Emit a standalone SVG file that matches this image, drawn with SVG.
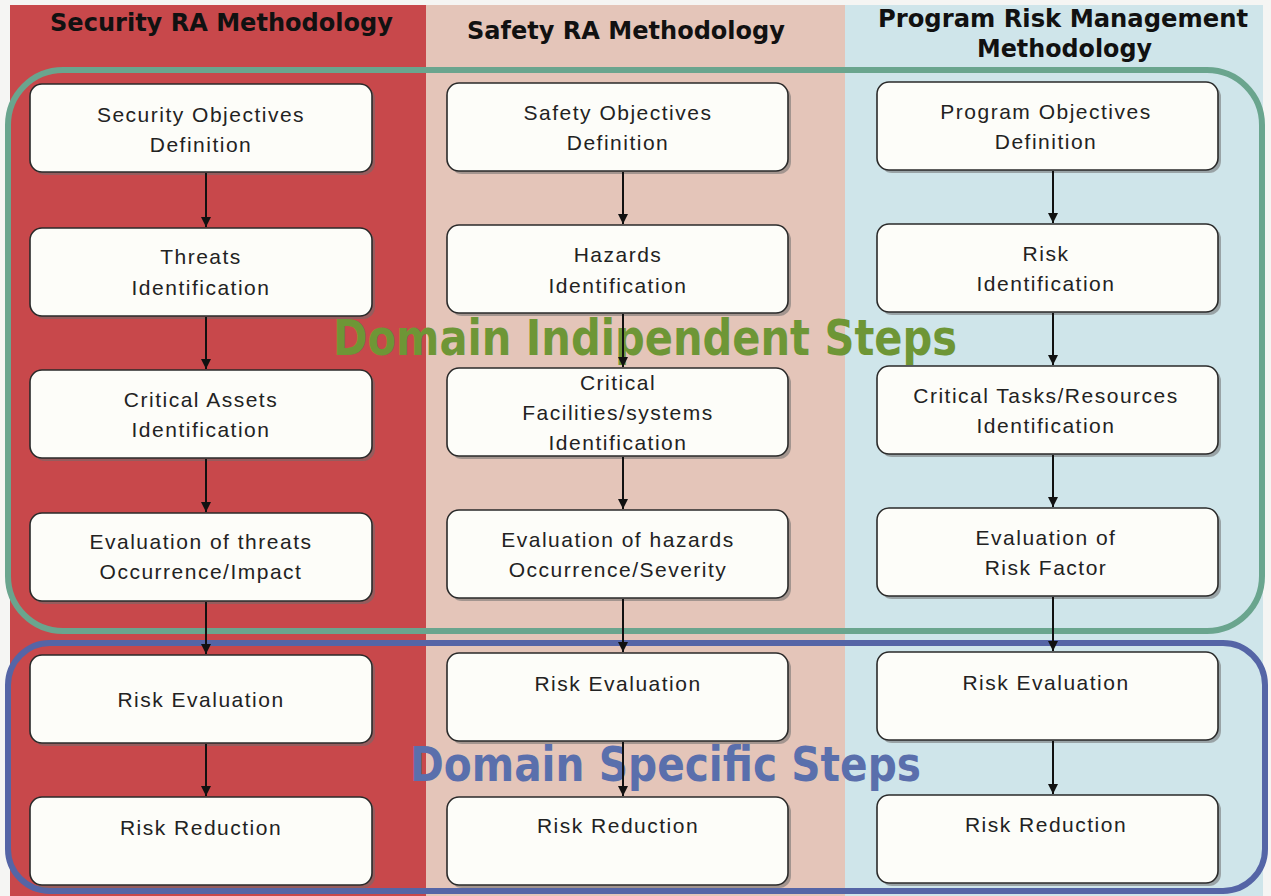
<svg xmlns="http://www.w3.org/2000/svg" width="1271" height="896" viewBox="0 0 1271 896">
<defs>
<style>
.col-red{fill:#c8484b}
.col-beige{fill:#e4c5b9}
.col-blue{fill:#cfe5ea}
.hdr{font-family:"DejaVu Sans",Verdana,sans-serif;font-weight:bold;font-size:25px;fill:#111}
.box{fill:#fdfdf9;stroke:#2a2a2a;stroke-width:1.6}
.shadow{fill:#6e6e6e;opacity:0.55}
.lbl{font-family:"Liberation Sans",Arial,sans-serif;font-size:21px;fill:#222;text-anchor:middle;letter-spacing:1.5px}
.conn{stroke:#111;stroke-width:2;fill:none;marker-end:url(#ah)}
.grp-green{fill:none;stroke:#6aa58e;stroke-width:6}
.grp-blue{fill:none;stroke:#5565a6;stroke-width:6}
.big{font-family:"DejaVu Sans",Verdana,sans-serif;font-weight:bold}
</style>
<marker id="ah" viewBox="0 0 10 10" refX="10" refY="5" markerWidth="5" markerHeight="5" orient="auto" markerUnits="strokeWidth">
<path d="M0,0 L10,5 L0,10 z" fill="#111"/>
</marker>
</defs>
<rect x="0" y="0" width="1271" height="896" fill="#f5f5f3"/>
<g id="columns">
<rect class="col-red" x="10" y="5" width="416" height="891"/>
<rect class="col-beige" x="426" y="5" width="419" height="891"/>
<rect class="col-blue" x="845" y="5" width="418" height="891"/>
</g>
<g id="headers">
<text class="hdr" x="50" y="31" textLength="343" lengthAdjust="spacingAndGlyphs">Security RA Methodology</text>
<text class="hdr" x="467" y="39" textLength="318" lengthAdjust="spacingAndGlyphs">Safety RA Methodology</text>
<text class="hdr" x="878" y="27" textLength="370" lengthAdjust="spacingAndGlyphs">Program Risk Management</text>
<text class="hdr" x="977" y="57" textLength="175" lengthAdjust="spacingAndGlyphs">Methodology</text>
</g>
<g id="groups">
<rect id="domain-independent-frame" class="grp-green" x="8" y="70" width="1254" height="561" rx="55" ry="55"/>
<rect id="domain-specific-frame" class="grp-blue" x="8" y="643" width="1257" height="248" rx="42" ry="42"/>
</g>
<g id="s1"><rect class="shadow" x="33" y="87" width="342" height="88" rx="12"/><rect class="box" x="30" y="84" width="342" height="88" rx="12"/><text class="lbl" x="201" y="122">Security Objectives</text><text class="lbl" x="201" y="152">Definition</text></g>
<g id="s2"><rect class="shadow" x="33" y="231" width="342" height="88" rx="12"/><rect class="box" x="30" y="228" width="342" height="88" rx="12"/><text class="lbl" x="201" y="264">Threats</text><text class="lbl" x="201" y="295">Identification</text></g>
<g id="s3"><rect class="shadow" x="33" y="373" width="342" height="88" rx="12"/><rect class="box" x="30" y="370" width="342" height="88" rx="12"/><text class="lbl" x="201" y="407">Critical Assets</text><text class="lbl" x="201" y="437">Identification</text></g>
<g id="s4"><rect class="shadow" x="33" y="516" width="342" height="88" rx="12"/><rect class="box" x="30" y="513" width="342" height="88" rx="12"/><text class="lbl" x="201" y="549">Evaluation of threats</text><text class="lbl" x="201" y="579">Occurrence/Impact</text></g>
<g id="s5"><rect class="shadow" x="33" y="658" width="342" height="88" rx="12"/><rect class="box" x="30" y="655" width="342" height="88" rx="12"/><text class="lbl" x="201" y="707">Risk Evaluation</text></g>
<g id="s6"><rect class="shadow" x="33" y="800" width="342" height="88" rx="12"/><rect class="box" x="30" y="797" width="342" height="88" rx="12"/><text class="lbl" x="201" y="835">Risk Reduction</text></g>
<g id="f1"><rect class="shadow" x="450" y="86" width="341" height="88" rx="12"/><rect class="box" x="447" y="83" width="341" height="88" rx="12"/><text class="lbl" x="618" y="120">Safety Objectives</text><text class="lbl" x="618" y="150">Definition</text></g>
<g id="f2"><rect class="shadow" x="450" y="228" width="341" height="88" rx="12"/><rect class="box" x="447" y="225" width="341" height="88" rx="12"/><text class="lbl" x="618" y="262">Hazards</text><text class="lbl" x="618" y="293">Identification</text></g>
<g id="f3"><rect class="shadow" x="450" y="371" width="341" height="88" rx="12"/><rect class="box" x="447" y="368" width="341" height="88" rx="12"/><text class="lbl" x="618" y="390">Critical</text><text class="lbl" x="618" y="420">Facilities/systems</text><text class="lbl" x="618" y="450">Identification</text></g>
<g id="f4"><rect class="shadow" x="450" y="513" width="341" height="88" rx="12"/><rect class="box" x="447" y="510" width="341" height="88" rx="12"/><text class="lbl" x="618" y="547">Evaluation of hazards</text><text class="lbl" x="618" y="577">Occurrence/Severity</text></g>
<g id="f5"><rect class="shadow" x="450" y="656" width="341" height="88" rx="12"/><rect class="box" x="447" y="653" width="341" height="88" rx="12"/><text class="lbl" x="618" y="691">Risk Evaluation</text></g>
<g id="f6"><rect class="shadow" x="450" y="800" width="341" height="88" rx="12"/><rect class="box" x="447" y="797" width="341" height="88" rx="12"/><text class="lbl" x="618" y="833">Risk Reduction</text></g>
<g id="p1"><rect class="shadow" x="880" y="85" width="341" height="88" rx="12"/><rect class="box" x="877" y="82" width="341" height="88" rx="12"/><text class="lbl" x="1046" y="119">Program Objectives</text><text class="lbl" x="1046" y="149">Definition</text></g>
<g id="p2"><rect class="shadow" x="880" y="227" width="341" height="88" rx="12"/><rect class="box" x="877" y="224" width="341" height="88" rx="12"/><text class="lbl" x="1046" y="261">Risk</text><text class="lbl" x="1046" y="291">Identification</text></g>
<g id="p3"><rect class="shadow" x="880" y="369" width="341" height="88" rx="12"/><rect class="box" x="877" y="366" width="341" height="88" rx="12"/><text class="lbl" x="1046" y="403">Critical Tasks/Resources</text><text class="lbl" x="1046" y="433">Identification</text></g>
<g id="p4"><rect class="shadow" x="880" y="511" width="341" height="88" rx="12"/><rect class="box" x="877" y="508" width="341" height="88" rx="12"/><text class="lbl" x="1046" y="545">Evaluation of</text><text class="lbl" x="1046" y="575">Risk Factor</text></g>
<g id="p5"><rect class="shadow" x="880" y="655" width="341" height="88" rx="12"/><rect class="box" x="877" y="652" width="341" height="88" rx="12"/><text class="lbl" x="1046" y="690">Risk Evaluation</text></g>
<g id="p6"><rect class="shadow" x="880" y="798" width="341" height="88" rx="12"/><rect class="box" x="877" y="795" width="341" height="88" rx="12"/><text class="lbl" x="1046" y="832">Risk Reduction</text></g>
<g id="overlay-labels">
<text class="big" x="333" y="355" font-size="50" fill="#6e9636" textLength="624" lengthAdjust="spacingAndGlyphs">Domain Indipendent Steps</text>
<text class="big" x="410" y="781" font-size="48" fill="#5a6fac" textLength="511" lengthAdjust="spacingAndGlyphs">Domain Specific Steps</text>
</g>
<g id="connectors">
<line class="conn" x1="206" y1="173" x2="206" y2="227"/>
<line class="conn" x1="206" y1="317" x2="206" y2="369"/>
<line class="conn" x1="206" y1="459" x2="206" y2="512"/>
<line class="conn" x1="206" y1="602" x2="206" y2="654"/>
<line class="conn" x1="206" y1="744" x2="206" y2="796"/>
<line class="conn" x1="623" y1="172" x2="623" y2="224"/>
<line class="conn" x1="623" y1="314" x2="623" y2="367"/>
<line class="conn" x1="623" y1="457" x2="623" y2="509"/>
<line class="conn" x1="623" y1="599" x2="623" y2="652"/>
<line class="conn" x1="623" y1="742" x2="623" y2="796"/>
<line class="conn" x1="1053" y1="171" x2="1053" y2="223"/>
<line class="conn" x1="1053" y1="313" x2="1053" y2="365"/>
<line class="conn" x1="1053" y1="455" x2="1053" y2="507"/>
<line class="conn" x1="1053" y1="597" x2="1053" y2="651"/>
<line class="conn" x1="1053" y1="741" x2="1053" y2="794"/>
</g>
</svg>
